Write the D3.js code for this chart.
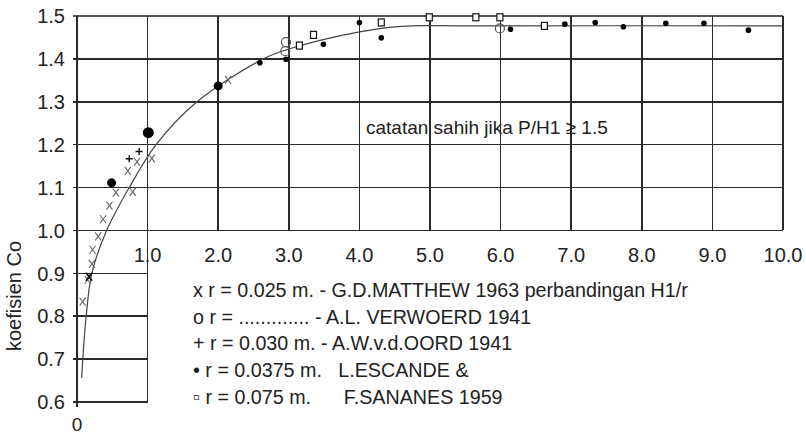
<!DOCTYPE html>
<html lang="en">
<head>
  <meta charset="UTF-8">
  <title>Koefisien Co</title>
  <style>
    body { margin: 0; background: #fff; }
    svg text { font-family: "Liberation Sans", Arial, sans-serif; fill: #222; }
  </style>
  <script src="https://d3js.org/d3.v7.min.js"></script>
</head>
<body>
  <div id="chart"></div>
  <script>
    // H1/r vs Co
    var matthew = [[0.08,0.834],[0.15,0.885],[0.17,0.892],[0.21,0.922],[0.22,0.955],[0.30,0.986],
                   [0.37,1.026],[0.46,1.058],[0.55,1.088],[0.79,1.090],[0.72,1.139],[0.85,1.160],
                   [1.06,1.168],[2.14,1.351]];
    var verwoerd = [[2.96,1.439],[2.95,1.418],[5.99,1.471]];
    var oord = [[0.74,1.167],[0.88,1.184]];
    var escandeBig = [[0.49,1.111],[1.01,1.228],[2.0,1.337]];
    var escande = [[2.59,1.391],[2.96,1.399],[3.49,1.434],[4.0,1.485],[4.31,1.449],[6.14,1.469],
                   [6.91,1.481],[7.34,1.485],[7.74,1.475],[8.34,1.483],[8.88,1.483],[9.51,1.467]];
    var sananes = [[3.15,1.431],[3.35,1.456],[4.31,1.485],[4.99,1.497],[5.65,1.497],[5.99,1.497],[6.62,1.477]];
    var curve = [[0.066,0.656],[0.09,0.72],[0.13,0.80],[0.21,0.90],[0.42,1.0],[0.74,1.1],[1.12,1.2],
                 [1.70,1.3],[2.64,1.4],[3.0,1.423],[4.0,1.463],[4.6,1.476],[5.5,1.477],[10,1.477]];

    var xTicks = [1,2,3,4,5,6,7,8,9,10];
    var yTicks = [0.6,0.7,0.8,0.9,1.0,1.1,1.2,1.3,1.4,1.5];
    var yLabel = 'koefisien Co';
    var note = 'catatan sahih jika P/H1 \u2265 1.5';
    var legend = ['x r = 0.025 m. - G.D.MATTHEW 1963 perbandingan H1/r',
                  'o r = ............. - A.L. VERWOERD 1941',
                  '+ r = 0.030 m. - A.W.v.d.OORD 1941',
                  '\u2022 r = 0.0375 m.   L.ESCANDE &',
                  '\u25ab r = 0.075 m.      F.SANANES 1959'];

    var width = 806, height = 436;
    var x = d3.scaleLinear().domain([0, 10]).range([77, 783]);
    var y = d3.scaleLinear().domain([0.6, 1.5]).range([402, 16]);

    var svg = d3.select('#chart').append('svg')
      .attr('width', width).attr('height', height);

    var grid = svg.append('g').attr('stroke', '#2a2a2a').attr('stroke-width', 1.6)
      .attr('shape-rendering', 'crispEdges');

    // upper box: full grid above 1.0
    grid.selectAll('.hu').data(yTicks.filter(function(d) { return d >= 1.0; })).enter().append('line')
      .attr('x1', function(d) { return x(0) - 4; }).attr('x2', x(10))
      .attr('y1', function(d) { return y(d); }).attr('y2', function(d) { return y(d); })
      .attr('stroke', function(d) { return d === 1.5 ? '#555' : '#2a2a2a'; })
      .attr('stroke-width', function(d) { return d === 1.5 ? 2.5 : 1.6; });
    grid.selectAll('.vu').data([0].concat(xTicks)).enter().append('line')
      .attr('x1', function(d) { return x(d); }).attr('x2', function(d) { return x(d); })
      .attr('y1', y(1.5)).attr('y2', function(d) { return d <= 1 ? y(0.6) + (d === 0 ? 5 : 0) : y(1.0); });
    // lower strip: only 0..1
    grid.selectAll('.hl').data(yTicks.filter(function(d) { return d < 1.0; })).enter().append('line')
      .attr('x1', x(0) - 4).attr('x2', x(1))
      .attr('y1', function(d) { return y(d); }).attr('y2', function(d) { return y(d); });

    // y labels
    svg.append('g').selectAll('text').data(yTicks).enter().append('text')
      .attr('x', x(0) - 12).attr('y', function(d) { return y(d); }).attr('dy', '0.36em')
      .attr('text-anchor', 'end').attr('font-size', 20)
      .text(d3.format('.1f'));

    // x labels sit under the 1.0 line
    svg.append('g').selectAll('text').data(xTicks).enter().append('text')
      .attr('x', function(d) { return x(d); }).attr('y', y(1.0) + 32)
      .attr('text-anchor', 'middle').attr('font-size', 20)
      .text(d3.format('.1f'));
    svg.append('text').attr('x', x(0)).attr('y', 431).attr('text-anchor', 'middle')
      .attr('font-size', 19).text('0');

    svg.append('text')
      .attr('transform', 'translate(21,' + 296 + ') rotate(-90)')
      .attr('text-anchor', 'middle').attr('font-size', 20).text(yLabel);

    // fitted curve
    svg.append('path').datum(curve)
      .attr('fill', 'none').attr('stroke', '#444').attr('stroke-width', 1.2)
      .attr('d', d3.line().x(function(d) { return x(d[0]); }).y(function(d) { return y(d[1]); })
        .curve(d3.curveCatmullRom.alpha(0.5)));

    // markers
    var m = svg.append('g');
    m.selectAll('.mx').data(matthew).enter().append('path')
      .attr('transform', function(d) { return 'translate(' + x(d[0]) + ',' + y(d[1]) + ')'; })
      .attr('d', 'M-3,-4L3,4M3,-4L-3,4')
      .attr('stroke', function(d, i) { return i === 2 ? '#111' : '#666'; })
      .attr('stroke-width', function(d, i) { return i === 2 ? 1.8 : 1.1; })
      .attr('fill', 'none');
    m.selectAll('.mo').data(verwoerd).enter().append('circle')
      .attr('cx', function(d) { return x(d[0]); }).attr('cy', function(d) { return y(d[1]); })
      .attr('r', 4.5).attr('fill', 'none').attr('stroke', '#555').attr('stroke-width', 1.2);
    m.selectAll('.mp').data(oord).enter().append('path')
      .attr('transform', function(d) { return 'translate(' + x(d[0]) + ',' + y(d[1]) + ')'; })
      .attr('d', 'M-3.5,0L3.5,0M0,-3.5L0,3.5')
      .attr('stroke', '#111').attr('stroke-width', 1.4);
    m.selectAll('.mb').data(escandeBig).enter().append('circle')
      .attr('cx', function(d) { return x(d[0]); }).attr('cy', function(d) { return y(d[1]); })
      .attr('r', function(d, i) { return i === 1 ? 5.5 : 4.5; }).attr('fill', '#000');
    m.selectAll('.md').data(escande).enter().append('circle')
      .attr('cx', function(d) { return x(d[0]); }).attr('cy', function(d) { return y(d[1]); })
      .attr('r', 2.8).attr('fill', '#000');
    m.selectAll('.ms').data(sananes).enter().append('rect')
      .attr('x', function(d) { return x(d[0]) - 3; }).attr('y', function(d) { return y(d[1]) - 3.5; })
      .attr('width', 6).attr('height', 7)
      .attr('fill', '#fff').attr('stroke', '#111').attr('stroke-width', 1.2);

    svg.append('text').attr('x', 366).attr('y', 134).attr('font-size', 19).text(note);

    svg.append('g').selectAll('text').data(legend).enter().append('text')
      .attr('x', 193).attr('y', function(d, i) { return 297 + i * 26.7; })
      .attr('font-size', 19.7).attr('xml:space', 'preserve').style('white-space', 'pre')
      .text(function(d) { return d; });
  </script>
</body>
</html>
